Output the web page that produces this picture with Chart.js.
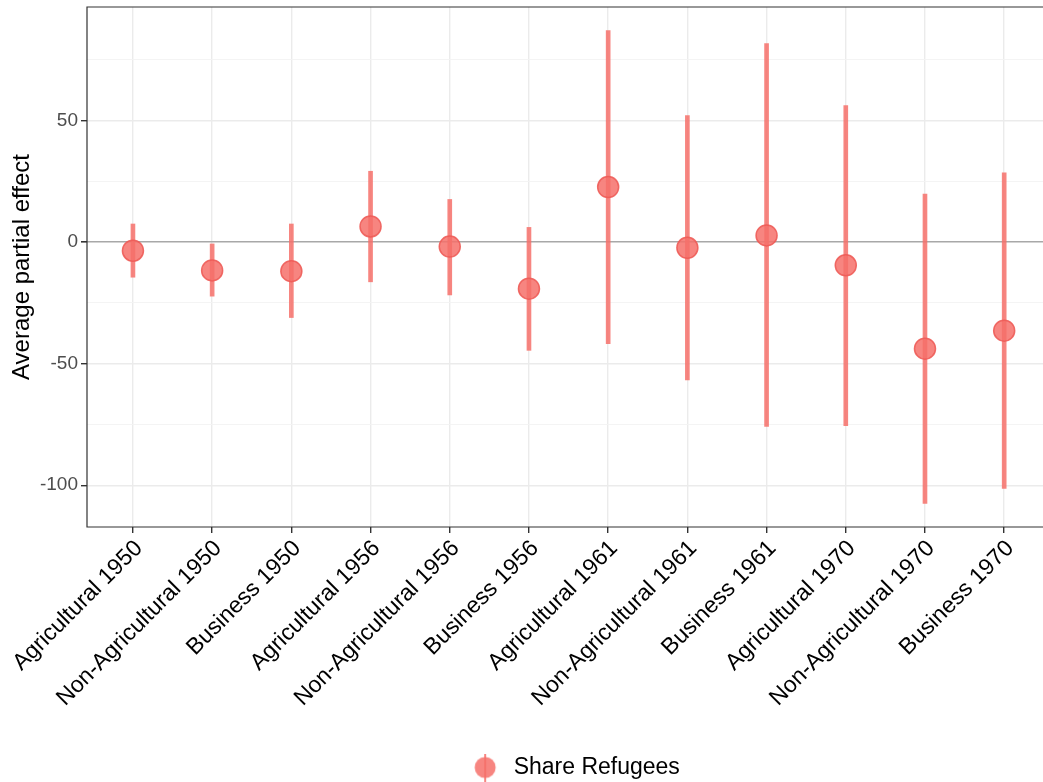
<!DOCTYPE html>
<html lang="en">
<head>
  <meta charset="UTF-8">
  <title>Average partial effect - Share Refugees</title>
  <script src="https://cdn.jsdelivr.net/npm/chart.js"></script>
  <style>
    html, body {
      margin: 0;
      padding: 0;
      background: #fff;
    }
    .container {
      width: 1043px;
      height: 782px;
    }
  </style>
</head>
<body>
  <div class="container">
    <canvas id="myChart" width="1043" height="782"></canvas>
  </div>

  <script>
    // Data
    const categories = [
      'Agricultural 1950', 'Non-Agricultural 1950', 'Business 1950',
      'Agricultural 1956', 'Non-Agricultural 1956', 'Business 1956',
      'Agricultural 1961', 'Non-Agricultural 1961', 'Business 1961',
      'Agricultural 1970', 'Non-Agricultural 1970', 'Business 1970'
    ];
    const estimate = [-3.5, -11.6, -11.9, 6.5, -1.8, -19.1, 22.7, -2.3, 2.8, -9.5, -43.8, -36.4];
    const lower = [-14.4, -22.2, -31.0, -16.3, -21.7, -44.5, -41.8, -56.7, -75.8, -75.5, -107.5, -101.3];
    const upper = [7.5, -0.7, 7.5, 29.2, 17.6, 6.1, 87.1, 52.1, 81.7, 56.2, 19.8, 28.6];
    const yMajorTicks = [-100, -50, 0, 50];
    const yMinorTicks = [-75, -25, 25, 75];
    const seriesName = 'Share Refugees';

    const red = 'rgba(246, 112, 106, 0.85)';
    const redEdge = 'rgba(238, 92, 88, 0.9)';
    const font = '"Liberation Sans", Arial, Helvetica, sans-serif';

    // legend key: point with a vertical line through it
    // (drawn right of the key box centre so the item sits like ggplot's)
    const key = document.createElement('canvas');
    key.width = 52;
    key.height = 28;
    const kc = key.getContext('2d');
    kc.strokeStyle = red;
    kc.lineWidth = 2;
    kc.beginPath();
    kc.moveTo(35, 0);
    kc.lineTo(35, 28);
    kc.stroke();
    kc.fillStyle = red;
    kc.beginPath();
    kc.arc(35, 14, 10.5, 0, Math.PI * 2);
    kc.fill();

    // panel border (the right side is cut off in the original image)
    const panelBorder = {
      id: 'panelBorder',
      afterDraw(chart) {
        const a = chart.chartArea;
        const c = chart.ctx;
        c.save();
        c.strokeStyle = '#333333';
        c.lineWidth = 1.2;
        c.beginPath();
        c.moveTo(chart.width, a.top);
        c.lineTo(a.left, a.top);
        c.lineTo(a.left, a.bottom);
        c.lineTo(chart.width, a.bottom);
        c.stroke();
        c.restore();
      }
    };

    const noPadding = axis => {
      axis.paddingLeft = 0;
      axis.paddingRight = 0;
      axis.paddingTop = 0;
      axis.paddingBottom = 0;
    };

    const points = estimate.map((v, i) => ({ x: i, y: v }));
    const ranges = lower.map((v, i) => ({ x: i, y: [v, upper[i]] }));

    const ctx = document.getElementById('myChart').getContext('2d');
    const myChart = new Chart(ctx, {
      type: 'scatter',
      data: {
        datasets: [
          {
            label: seriesName,
            data: points,
            backgroundColor: red,
            borderColor: redEdge,
            borderWidth: 1.5,
            pointRadius: 10.5,
            pointHoverRadius: 10.5
          },
          {
            type: 'bar',
            label: 'range',
            data: ranges,
            backgroundColor: red,
            borderWidth: 0,
            barThickness: 4
          }
        ]
      },
      options: {
        responsive: false,
        animation: false,
        layout: {
          autoPadding: false,
          padding: { top: 7, right: 0, left: 0, bottom: -7 }
        },
        plugins: {
          tooltip: { enabled: false },
          legend: {
            position: 'bottom',
            fullSize: false,
            labels: {
              usePointStyle: true,
              pointStyle: key,
              pointStyleWidth: 52,
              color: '#000',
              font: { family: font, size: 23 },
              padding: 2,
              filter: item => item.datasetIndex === 0
            }
          }
        },
        scales: {
          x: {
            type: 'linear',
            min: -0.58,
            max: 11.49,
            offset: false,
            afterBuildTicks: axis => {
              axis.ticks = categories.map((c, i) => ({ value: i }));
            },
            afterFit: axis => {
              axis.height = 227;
              noPadding(axis);
            },
            ticks: {
              autoSkip: false,
              minRotation: 45,
              maxRotation: 45,
              color: '#000',
              padding: 2,
              labelOffset: 6,
              font: { family: font, size: 23 },
              callback: v => categories[v]
            },
            grid: {
              offset: false,
              color: '#EBEBEB',
              lineWidth: 1.4,
              tickLength: 6,
              tickColor: '#333333'
            },
            border: { display: false }
          },
          y: {
            min: -117.2,
            max: 96.8,
            afterBuildTicks: axis => {
              axis.ticks = yMajorTicks.concat(yMinorTicks)
                .sort((a, b) => a - b)
                .map(v => ({ value: v }));
            },
            afterFit: axis => {
              axis.width = 87;
              noPadding(axis);
            },
            title: {
              display: true,
              text: 'Average partial effect',
              color: '#000',
              font: { family: font, size: 24 },
              padding: { top: 8, bottom: 0 }
            },
            ticks: {
              color: '#4D4D4D',
              padding: 3,
              font: { family: font, size: 19 },
              callback: v => (yMajorTicks.includes(v) ? String(v) : '')
            },
            grid: {
              color: c => {
                if (c.tick && c.tick.value === 0) return '#A8A8A8';
                return yMajorTicks.includes(c.tick && c.tick.value) ? '#EBEBEB' : '#F3F3F3';
              },
              lineWidth: c => {
                if (c.tick && c.tick.value === 0) return 1.6;
                return yMajorTicks.includes(c.tick && c.tick.value) ? 1.4 : 0.9;
              },
              tickLength: 6,
              tickColor: c => (yMajorTicks.includes(c.tick && c.tick.value) ? '#333333' : 'rgba(0,0,0,0)')
            },
            border: { display: false }
          }
        }
      },
      plugins: [panelBorder]
    });
  </script>
</body>
</html>
